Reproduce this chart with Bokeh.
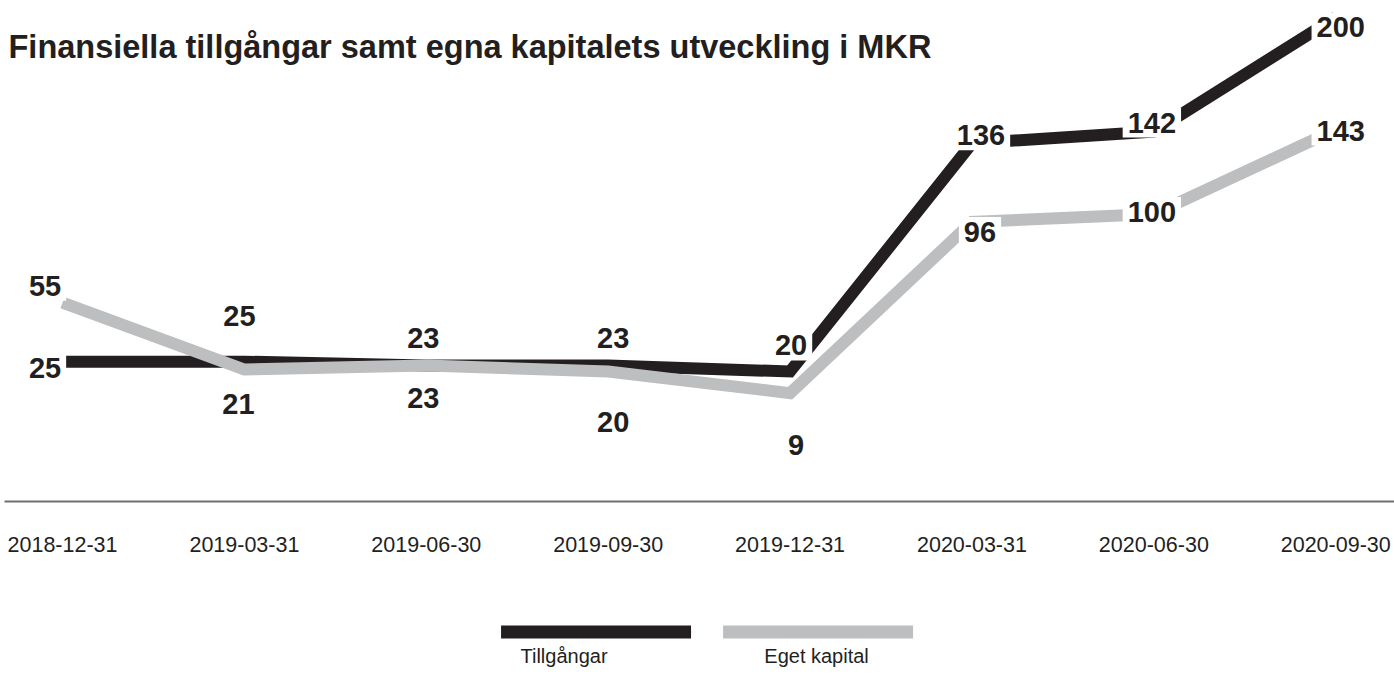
from bokeh.plotting import figure
from bokeh.models import (ColumnDataSource, Range1d, FactorRange, FixedTicker, Label)
from bokeh.layouts import column
from bokeh.transform import dodge
from bokeh.core.properties import value
from bokeh.embed import file_html
from bokeh.resources import INLINE

# ---- data ----
dates = ["2018-12-31", "2019-03-31", "2019-06-30", "2019-09-30",
         "2019-12-31", "2020-03-31", "2020-06-30", "2020-09-30"]
tillgangar = [25, 25, 23, 23, 20, 136, 142, 200]
eget_kapital = [55, 21, 23, 20, 9, 96, 100, 143]
series_names = ["Tillgångar", "Eget kapital"]
series_colors = ["#231f20", "#bcbec0"]
title_text = "Finansiella tillgångar samt egna kapitalets utveckling i MKR"

# label placement (screen-pixel offsets from each point; styling only)
t_dx = [-17.5, -5, -3, 5, 1, 9, -2, 5]
t_dy = [6, -46, -28, -28, -26, -8, -9, 10]
e_dx = [-17.5, -6, -3, 5, 6, 8, -2, 5]
e_dy = [-17, 34, 32, 51, 52, 10, -2, 1]

FONT = "Liberation Sans"
TXT = "#231f20"

idx = list(range(len(dates)))

p = figure(width=1394, height=580, title=None,
           x_range=Range1d(-0.319, 7.323), y_range=Range1d(-46.1, 208.6),
           min_border_left=4, min_border_right=0, min_border_top=0,
           min_border_bottom=79, y_axis_location=None,
           output_backend="svg", toolbar_location=None)
p.outline_line_color = None
p.grid.visible = False
p.background_fill_color = "white"
p.border_fill_color = "white"

src_t = ColumnDataSource(dict(x=idx, y=tillgangar, t=[str(v) for v in tillgangar],
                              dx=t_dx, dy=t_dy))
src_e = ColumnDataSource(dict(x=idx, y=eget_kapital, t=[str(v) for v in eget_kapital],
                              dx=e_dx, dy=e_dy))

p.line("x", "y", source=src_t, line_color=series_colors[0], line_width=12,
       line_join="miter", line_cap="butt")
p.line("x", "y", source=src_e, line_color=series_colors[1], line_width=12,
       line_join="miter", line_cap="butt")

for src in (src_t, src_e):
    p.text("x", "y", text="t", source=src, x_offset="dx", y_offset="dy",
           text_font=value(FONT), text_font_style="bold", text_font_size="29px",
           text_color=TXT, text_align="center", text_baseline="alphabetic",
           background_fill_color="white", padding=5)

ax = p.xaxis[0]
ax.ticker = FixedTicker(ticks=idx)
ax.major_label_overrides = {i: d for i, d in zip(idx, dates)}
ax.axis_line_color = "#6d6e71"
ax.axis_line_width = 2
ax.major_tick_line_color = None
ax.minor_tick_line_color = None
ax.major_tick_out = 0
ax.major_tick_in = 0
ax.major_label_standoff = 35
ax.major_label_text_font = FONT
ax.major_label_text_font_size = "21.5px"
ax.major_label_text_color = TXT

# title as label inside the frame
xs, xe = p.x_range.start, p.x_range.end
ys, ye = p.y_range.start, p.y_range.end
fw, fh = 1390.0, 501.0
title = Label(x=xs + 4 * (xe - xs) / fw, y=ye - 46 * (ye - ys) / fh, text=title_text,
              text_font=FONT, text_font_style="bold", text_font_size="32.5px",
              text_color=TXT, text_baseline="alphabetic", text_align="left")
p.add_layout(title)

# legend row (same frame borders as the chart so the column aligns)
leg_range = FactorRange(*series_names, range_padding=2.1305,
                        range_padding_units="absolute")
leg = figure(width=1394, height=99, title=None,
             x_range=leg_range, y_range=Range1d(-47.5, 51.5),
             min_border_left=4, min_border_right=0, min_border_top=0,
             min_border_bottom=0, x_axis_location=None, y_axis_location=None,
             output_backend="svg", toolbar_location=None)
leg.outline_line_color = None
leg.grid.visible = False
lsrc = ColumnDataSource(dict(x=series_names, y=[0, 0], c=series_colors,
                             dx=[-32, -1.5]))
leg.rect(dodge("x", 0.034, range=leg_range), "y", source=lsrc, width=190, height=13,
         width_units="screen", height_units="screen", fill_color="c", line_color=None)
leg.text(dodge("x", 0.034, range=leg_range), "y", text="x", source=lsrc,
         x_offset="dx", y_offset=24,
         text_font=value(FONT), text_font_size="20px", text_color=TXT,
         text_align="center", text_baseline="alphabetic")

layout = column(p, leg, spacing=0)
open("out.html", "w").write(file_html(layout, INLINE))
